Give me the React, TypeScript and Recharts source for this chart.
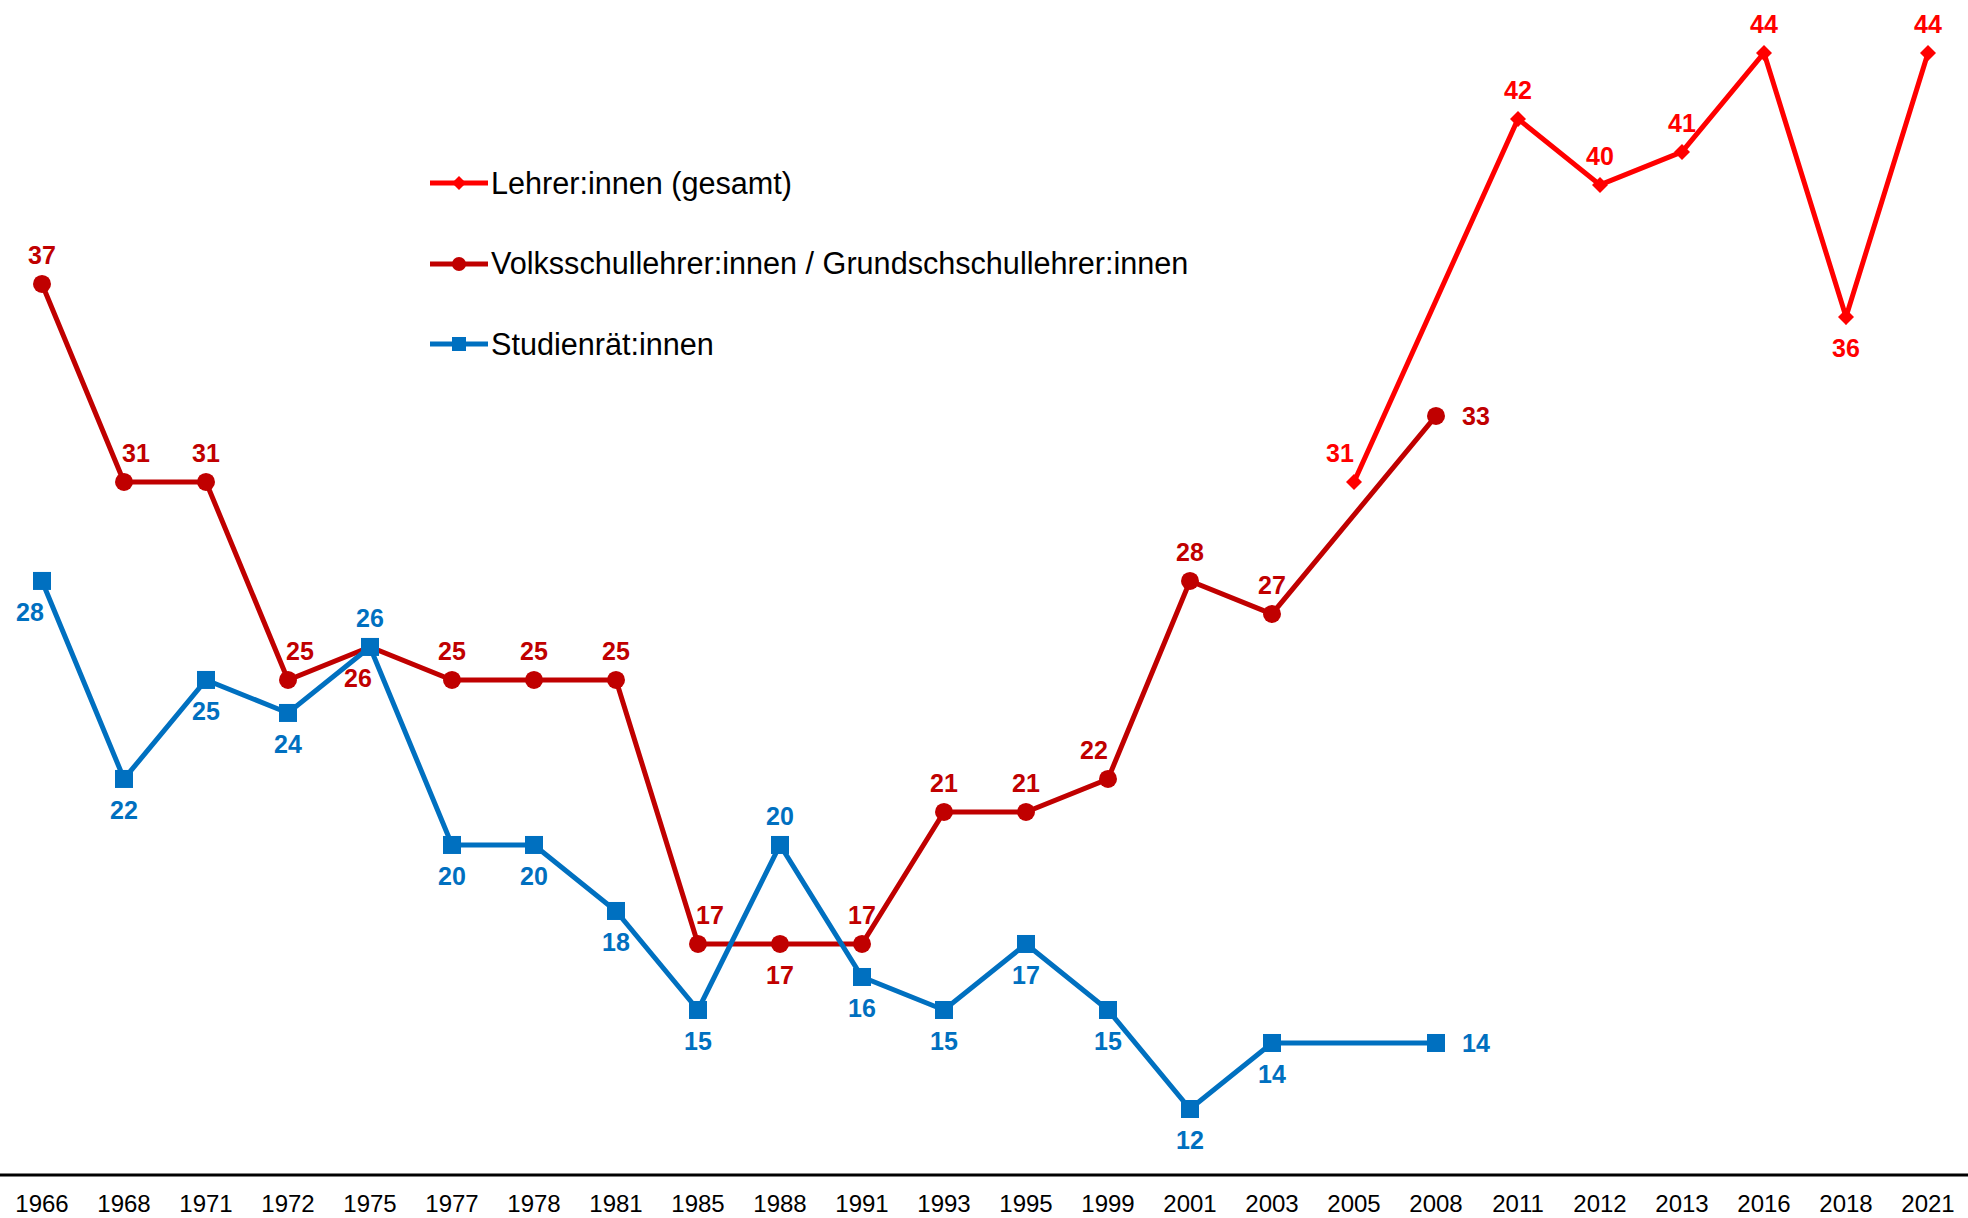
import { LineChart, Line, XAxis, YAxis, LabelList } from "recharts";

const YEARS = [
  "1966", "1968", "1971", "1972", "1975", "1977", "1978", "1981", "1985", "1988", "1991", "1993",
  "1995", "1999", "2001", "2003", "2005", "2008", "2011", "2012", "2013", "2016", "2018", "2021",
];

// Lehrer:innen gesamt (only from 2005 on, 2008 missing)
const LEHRER = [
  null, null, null, null, null, null, null, null, null, null, null, null,
  null, null, null, null, 31, null, 42, 40, 41, 44, 36, 44,
];
const VOLKS = [
  37, 31, 31, 25, 26, 25, 25, 25, 17, 17, 17, 21,
  21, 22, 28, 27, null, 33, null, null, null, null, null, null,
];
const STUDIEN = [
  28, 22, 25, 24, 26, 20, 20, 18, 15, 20, 16, 15,
  17, 15, 12, 14, null, 14, null, null, null, null, null, null,
];

// where each value label sits relative to its point
const LEHRER_POS = ["", "", "", "", "", "", "", "", "", "", "", "", "", "", "", "", "tl", "", "t", "t", "t", "t", "b", "t"];
const VOLKS_POS = ["t", "tr", "t", "tr", "bl", "t", "t", "t", "tr", "b", "t", "t", "t", "tl", "t", "t", "", "r"];
const STUDIEN_POS = ["bl", "b", "b", "b", "t", "b", "b", "b", "b", "t", "b", "b", "b", "b", "b", "b", "", "r"];

const C_LEHRER = "#FF0000";
const C_VOLKS = "#C00000";
const C_STUDIEN = "#0070C0";
const FONT = '"Liberation Sans", Arial, sans-serif';

const data = YEARS.map((y, i) => ({
  year: y,
  lehrer: LEHRER[i],
  volks: VOLKS[i],
  studien: STUDIEN[i],
}));

const OFFSETS: Record<string, [number, number]> = {
  t: [0, -29],
  tr: [12, -29],
  tl: [-14, -29],
  b: [0, 31],
  bl: [-12, 31],
  r: [40, 0],
};

function makeLabel(pos: string[], color: string) {
  return (props: any) => {
    const { x, y, value, index } = props;
    if (value == null || x == null || y == null) return null;
    const [dx, dy] = OFFSETS[pos[index]] ?? OFFSETS.t;
    return (
      <text
        x={x + dx}
        y={y + dy}
        fill={color}
        fontSize={25}
        fontWeight="bold"
        fontFamily={FONT}
        textAnchor="middle"
        dominantBaseline="central"
      >
        {value}
      </text>
    );
  };
}

function circleDot(props: any) {
  const { cx, cy, value, index } = props;
  if (value == null || cy == null) return <g key={`c${index}`} />;
  return <circle key={`c${index}`} cx={cx} cy={cy} r={9} fill={C_VOLKS} />;
}

function squareDot(props: any) {
  const { cx, cy, value, index } = props;
  if (value == null || cy == null) return <g key={`s${index}`} />;
  return <rect key={`s${index}`} x={cx - 9} y={cy - 9} width={18} height={18} fill={C_STUDIEN} />;
}

function diamondDot(props: any) {
  const { cx, cy, value, index } = props;
  if (value == null || cy == null) return <g key={`d${index}`} />;
  const r = 8;
  return (
    <polygon
      key={`d${index}`}
      points={`${cx},${cy - r} ${cx + r},${cy} ${cx},${cy + r} ${cx - r},${cy}`}
      fill={C_LEHRER}
    />
  );
}

const LEGEND_ITEMS = [
  { name: "Lehrer:innen (gesamt)", color: C_LEHRER, shape: "diamond" },
  { name: "Volksschullehrer:innen / Grundschschullehrer:innen", color: C_VOLKS, shape: "circle" },
  { name: "Studienrät:innen", color: C_STUDIEN, shape: "square" },
];

function LegendBox() {
  return (
    <div style={{ position: "absolute", left: 430, top: 143, fontFamily: FONT, fontSize: 30.6, color: "#000" }}>
      {LEGEND_ITEMS.map((it) => (
        <div key={it.name} style={{ display: "flex", alignItems: "center", height: 80.5 }}>
          <svg width={58} height={20} style={{ marginRight: 3 }}>
            <line x1={0} y1={10} x2={58} y2={10} stroke={it.color} strokeWidth={5} />
            {it.shape === "diamond" && <polygon points="29,3 36,10 29,17 22,10" fill={it.color} />}
            {it.shape === "circle" && <circle cx={29} cy={10} r={7} fill={it.color} />}
            {it.shape === "square" && <rect x={22} y={3} width={14} height={14} fill={it.color} />}
          </svg>
          <span>{it.name}</span>
        </div>
      ))}
    </div>
  );
}

export default function App() {
  return (
    <div style={{ position: "relative", width: 1968, height: 1218, background: "#fff" }}>
      <style>{"body{margin:0}"}</style>
      <LineChart width={1968} height={1218} data={data} margin={{ top: 10, right: 0, left: 0, bottom: 0 }}>
        <XAxis
          dataKey="year"
          height={43}
          padding={{ left: 42, right: 40 }}
          axisLine={{ stroke: "#000", strokeWidth: 3 }}
          tickLine={false}
          tickMargin={14}
          interval={0}
          tick={{ fill: "#000", fontSize: 24, fontFamily: FONT }}
        />
        <YAxis hide domain={[10, 45.3]} />
        <Line
          dataKey="volks"
          stroke={C_VOLKS}
          strokeWidth={5}
          connectNulls
          dot={circleDot}
          activeDot={false}
          isAnimationActive={false}
        >
          <LabelList dataKey="volks" content={makeLabel(VOLKS_POS, C_VOLKS)} />
        </Line>
        <Line
          dataKey="studien"
          stroke={C_STUDIEN}
          strokeWidth={5}
          connectNulls
          dot={squareDot}
          activeDot={false}
          isAnimationActive={false}
        >
          <LabelList dataKey="studien" content={makeLabel(STUDIEN_POS, C_STUDIEN)} />
        </Line>
        <Line
          dataKey="lehrer"
          stroke={C_LEHRER}
          strokeWidth={5}
          connectNulls
          dot={diamondDot}
          activeDot={false}
          isAnimationActive={false}
        >
          <LabelList dataKey="lehrer" content={makeLabel(LEHRER_POS, C_LEHRER)} />
        </Line>
      </LineChart>
      <LegendBox />
    </div>
  );
}
